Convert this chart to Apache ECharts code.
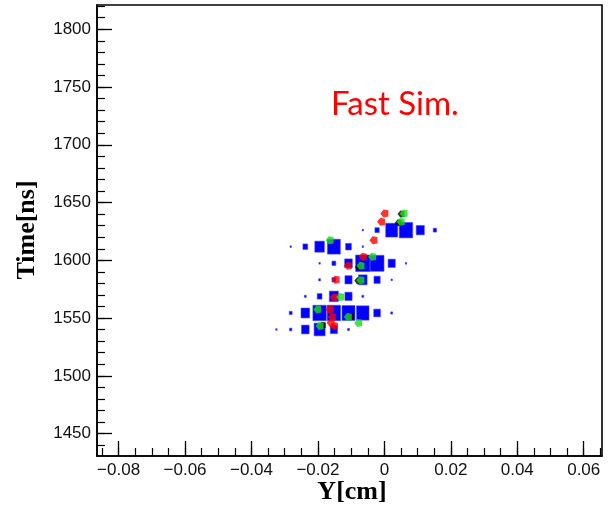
<!DOCTYPE html>
<html>
<head>
<meta charset="utf-8">
<script src="https://cdn.jsdelivr.net/npm/echarts@6/dist/echarts.min.js"></script>
<style>
  html, body { margin: 0; padding: 0; background: #fff; }
  #chart { width: 611px; height: 509px; }
</style>
</head>
<body>
<div id="chart"></div>
<script>
// Histogram binning (Y in cm, time in ns)
const binWidthY = 0.00433;
const binWidthT = 14.33;
const yBins = [-0.0325, -0.0282, -0.0238, -0.0195, -0.0152, -0.0108, -0.0065, -0.0022, 0.0022, 0.0065, 0.0108, 0.0152];
const tBins = [1540.1, 1554.4, 1568.8, 1583.1, 1597.4, 1611.8, 1626.1];

// Bin contents, one row per time bin (columns follow yBins)
const row1540 = [3, 5, 16, 23, 15, 4, 0, 0, 0, 0, 0, 0];
const row1554 = [0, 6, 18, 28, 28, 27, 26, 14, 4, 0, 0, 0];
const row1569 = [0, 0, 4, 10, 19, 15, 4, 0, 0, 0, 0, 0];
const row1583 = [0, 0, 0, 4, 8, 15, 18, 13, 3, 0, 0, 0];
const row1597 = [0, 0, 0, 3, 8, 16, 30, 29, 15, 3, 0, 0];
const row1612 = [0, 3, 10, 20, 27, 12, 3, 0, 0, 0, 0, 0];
const row1626 = [0, 0, 0, 0, 0, 0, 3, 9, 25, 28, 17, 7];
const contentRows = [row1540, row1554, row1569, row1583, row1597, row1612, row1626];
const maxContent = 30;

// Hit points [Y, time]
const redHits = [
  [0.0000, 1640.6], [-0.0010, 1633.3], [-0.0033, 1617.4], [-0.0065, 1603.0],
  [-0.0110, 1595.2], [-0.0147, 1583.2], [-0.0152, 1567.9], [-0.0165, 1557.5],
  [-0.0158, 1551.0], [-0.0162, 1546.0], [-0.0152, 1543.2]
];
const blackHits = [
  [0.0050, 1640.0], [0.0042, 1632.5], [-0.0078, 1594.3], [-0.0080, 1582.4],
  [-0.0102, 1551.4], [-0.0187, 1543.8]
];
const greenHits = [
  [0.0058, 1640.6], [0.0049, 1633.3], [-0.0165, 1617.4], [-0.0037, 1603.0],
  [-0.0072, 1595.2], [-0.0072, 1582.8], [-0.0133, 1568.3], [-0.0202, 1557.5],
  [-0.0110, 1551.0], [-0.0079, 1545.8], [-0.0195, 1543.2]
];

// Axis ranges and ticks
const yRange = [-0.0865, 0.0655];
const tRange = [1430.6, 1821];
const yTickLabels = [-0.08, -0.06, -0.04, -0.02, 0, 0.02, 0.04, 0.06];
const tTickLabels = [1450, 1500, 1550, 1600, 1650, 1700, 1750, 1800];
const yMinorStep = 0.005;
const tMinorStep = 10;

const yMinor = [];
for (let i = Math.ceil(yRange[0] / yMinorStep); i * yMinorStep <= yRange[1]; i++) {
  yMinor.push(Math.round(i * yMinorStep * 1e6) / 1e6);
}
const tMinor = [];
for (let v = Math.ceil(tRange[0] / tMinorStep) * tMinorStep; v <= tRange[1]; v += tMinorStep) {
  tMinor.push(v);
}

const boxData = [];
contentRows.forEach((row, r) => {
  row.forEach((c, k) => {
    if (c > 0) boxData.push([yBins[k], tBins[r], c]);
  });
});

const labelFont = { fontFamily: 'Liberation Sans', fontSize: 17, color: '#111' };
const fmtY = v => (Math.abs(v) < 1e-9 ? '0' : (v < 0 ? '\u2212' : '') + Math.abs(v).toFixed(2));
const fmtT = v => String(v);

const markerPath = 'path://M0,5 L4,0 L10,1 L10,9 L4,10 Z';

const chart = echarts.init(document.getElementById('chart'), null, { renderer: 'canvas' });
chart.setOption({
  animation: false,
  backgroundColor: '#fff',
  grid: {
    left: 97, right: 9, top: 5, bottom: 53,
    show: true, borderColor: '#000', borderWidth: 1.6, backgroundColor: 'transparent'
  },
  xAxis: [
    {
      type: 'value', min: yRange[0], max: yRange[1], position: 'bottom',
      axisLine: { show: true, onZero: false, lineStyle: { color: '#000', width: 1.6 } },
      axisTick: { show: true, inside: true, length: 15, customValues: yTickLabels, lineStyle: { color: '#000', width: 1.3 } },
      axisLabel: Object.assign({ customValues: yTickLabels, formatter: fmtY, margin: 6 }, labelFont),
      splitLine: { show: false }
    },
    {
      type: 'value', min: yRange[0], max: yRange[1], position: 'bottom',
      axisLine: { show: false, onZero: false },
      axisTick: { show: true, inside: true, length: 8, customValues: yMinor, lineStyle: { color: '#000', width: 1.2 } },
      axisLabel: { show: false },
      splitLine: { show: false }
    }
  ],
  yAxis: [
    {
      type: 'value', min: tRange[0], max: tRange[1], position: 'left',
      axisLine: { show: true, onZero: false, lineStyle: { color: '#000', width: 1.6 } },
      axisTick: { show: true, inside: true, length: 15, customValues: tTickLabels, lineStyle: { color: '#000', width: 1.3 } },
      axisLabel: Object.assign({ customValues: tTickLabels, formatter: fmtT, margin: 6 }, labelFont),
      splitLine: { show: false }
    },
    {
      type: 'value', min: tRange[0], max: tRange[1], position: 'left',
      axisLine: { show: false, onZero: false },
      axisTick: { show: true, inside: true, length: 8, customValues: tMinor, lineStyle: { color: '#000', width: 1.2 } },
      axisLabel: { show: false },
      splitLine: { show: false }
    }
  ],
  series: [
    {
      name: 'bins', type: 'custom', xAxisIndex: 0, yAxisIndex: 0,
      data: boxData,
      renderItem: function (params, api) {
        const c = api.coord([api.value(0), api.value(1)]);
        const s = api.size([binWidthY, binWidthT]);
        const f = api.value(2) / maxContent;
        const w = s[0] * f, h = s[1] * f;
        return {
          type: 'rect',
          shape: { x: c[0] - w / 2, y: c[1] - h / 2, width: w, height: h },
          style: { fill: '#0000ff', stroke: '#4d4dff', lineWidth: 0.6 }
        };
      }
    },
    {
      name: 'red', type: 'scatter', xAxisIndex: 0, yAxisIndex: 0,
      symbol: markerPath, symbolSize: 8, data: redHits,
      itemStyle: { color: '#ff0000' }
    },
    {
      name: 'black', type: 'scatter', xAxisIndex: 0, yAxisIndex: 0,
      symbol: markerPath, symbolSize: 7, data: blackHits,
      itemStyle: { color: '#000' }
    },
    {
      name: 'green', type: 'scatter', xAxisIndex: 0, yAxisIndex: 0,
      symbol: markerPath, symbolSize: 8, data: greenHits,
      itemStyle: { color: '#14e014' }
    }
  ],
  graphic: [
    {
      type: 'text', x: 331, y: 104,
      style: { text: 'Fast Sim.', fill: '#ff0000', font: '33px Lato', textVerticalAlign: 'middle', textAlign: 'left' }
    },
    {
      type: 'text', x: 352, y: 492,
      style: { text: 'Y[cm]', fill: '#000', font: 'bold 26px "Liberation Serif"', textAlign: 'center', textVerticalAlign: 'middle' }
    },
    {
      type: 'text', x: 27, y: 230, rotation: Math.PI / 2,
      style: { text: 'Time[ns]', fill: '#000', font: 'bold 26px "Liberation Serif"', textAlign: 'center', textVerticalAlign: 'middle' }
    }
  ]
});
</script>
</body>
</html>
